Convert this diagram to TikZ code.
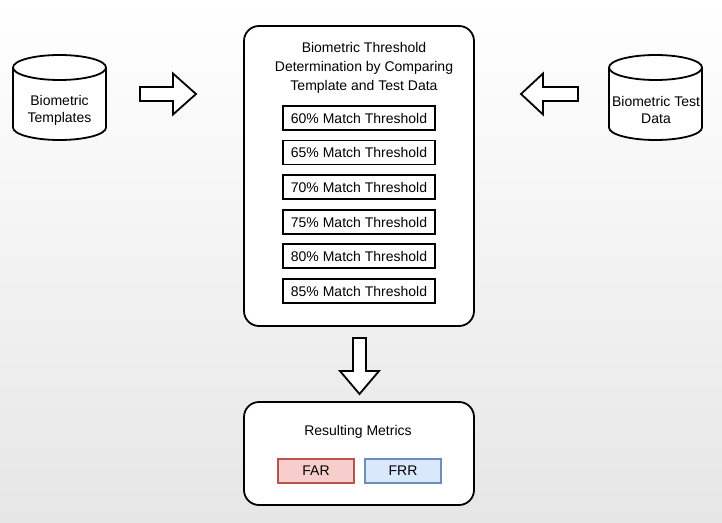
\documentclass[tikz,border=0pt]{standalone}
\usepackage{fontspec}
\setmainfont{Liberation Sans}
\definecolor{bgbot}{RGB}{230,230,230}
\definecolor{farfill}{HTML}{F8CECC}
\definecolor{fardraw}{HTML}{B85450}
\definecolor{frrfill}{HTML}{DAE8FC}
\definecolor{frrdraw}{HTML}{6C8EBF}
\begin{document}
\begin{tikzpicture}[x=1pt,y=1pt,
  txt/.style={font=\fontsize{14}{19}\selectfont, align=center, inner sep=0pt},
  cyltxt/.style={font=\fontsize{14}{17}\selectfont, align=center, inner sep=0pt},
  bigbox/.style={draw=black, line width=1.8pt, fill=white, rounded corners=15pt},
  thr/.style={draw=black, line width=1.8pt, fill=white, minimum width=152pt, minimum height=24pt, inner sep=0pt, font=\fontsize{14}{15}\selectfont},
  metric/.style={line width=1.6pt, minimum width=76pt, minimum height=24pt, inner sep=0pt, font=\fontsize{14}{15}\selectfont},
  blockarrow/.style={draw=black, line width=1.8pt, fill=white, line join=miter},
  cyl/.style={draw=black, line width=1.8pt, fill=white}]
\useasboundingbox (0,0) rectangle (722,-522);
\shade[top color=white, bottom color=bgbot] (0,0) rectangle (722,-522);

% left cylinder
\draw[cyl] (13,-67.5) -- (13,-127.5) arc (180:360:46.5pt and 12.5pt) -- (106,-67.5) arc (0:180:46.5pt and 12.5pt) -- cycle;
\draw[cyl, fill=none] (13,-67.5) arc (180:360:46.5pt and 12.5pt);
\node[cyltxt] (tmpl) at (59.5,-110) {Biometric\\Templates};

% right cylinder
\draw[cyl] (609,-67.5) -- (609,-127.5) arc (180:360:46.5pt and 12.5pt) -- (702,-67.5) arc (0:180:46.5pt and 12.5pt) -- cycle;
\draw[cyl, fill=none] (609,-67.5) arc (180:360:46.5pt and 12.5pt);
\node[cyltxt] (test) at (656,-110) {Biometric Test\\Data};

% main box
\draw[bigbox] (244,-26) rectangle (474,-326);
\node[txt] (title) at (364,-68) {Biometric Threshold\\Determination by Comparing\\Template and Test Data};
\node[thr] (t60) at (359,-118) {60\% Match Threshold};
\node[thr] (t65) at (359,-152.5) {65\% Match Threshold};
\node[thr] (t70) at (359,-187) {70\% Match Threshold};
\node[thr] (t75) at (359,-222) {75\% Match Threshold};
\node[thr] (t80) at (359,-256) {80\% Match Threshold};
\node[thr] (t85) at (359,-291) {85\% Match Threshold};

% bottom box
\draw[bigbox] (244,-402) rectangle (474,-505);
\node[txt] (res) at (358,-432) {Resulting Metrics};
\node[metric, draw=fardraw, fill=farfill] (far) at (316,-471) {FAR};
\node[metric, draw=frrdraw, fill=frrfill] (frr) at (403,-471) {FRR};

% block arrows
\coordinate (ra) at (140,-94);
\draw[blockarrow] (ra) ++(0,7) -- ++(33,0) -- ++(0,13.5) -- ++(23,-20.5) -- ++(-23,-20.5) -- ++(0,13.5) -- ++(-33,0) -- cycle;
\coordinate (la) at (578,-94);
\draw[blockarrow] (la) ++(0,7) -- ++(-35,0) -- ++(0,13.5) -- ++(-22,-20.5) -- ++(22,-20.5) -- ++(0,13.5) -- ++(35,0) -- cycle;
\coordinate (da) at (359.5,-338);
\draw[blockarrow] (da) ++(-6.5,0) -- ++(13,0) -- ++(0,-33) -- ++(13,0) -- ++(-19.5,-23) -- ++(-19.5,23) -- ++(13,0) -- cycle;
\end{tikzpicture}
\end{document}
